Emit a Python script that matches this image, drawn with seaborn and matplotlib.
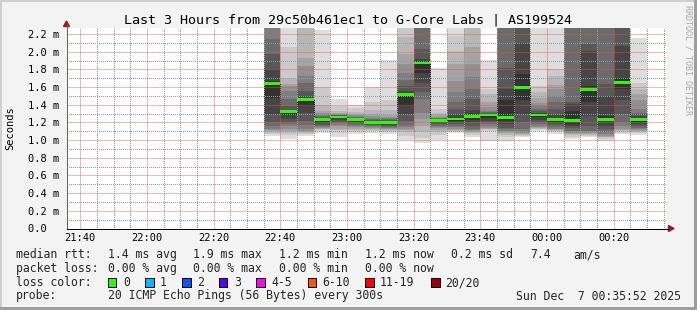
import matplotlib
matplotlib.use("Agg")
import matplotlib.pyplot as plt
import matplotlib.dates as mdates
from matplotlib.patches import Polygon, Rectangle
from matplotlib.lines import Line2D
from matplotlib.ticker import MultipleLocator, FixedLocator
import numpy as np
import pandas as pd
import seaborn as sns

# ---------------- data ----------------
title = "Last 3 Hours from 29c50b461ec1 to G-Core Labs | AS199524"
x_start = "2025-12-06 21:35:52"
x_end = "2025-12-07 00:35:52"
y_max = 2.268

bar_times = ["2025-12-06 22:35", "2025-12-06 22:40", "2025-12-06 22:45", "2025-12-06 22:50",
             "2025-12-06 22:55", "2025-12-06 23:00", "2025-12-06 23:05", "2025-12-06 23:10",
             "2025-12-06 23:15", "2025-12-06 23:20", "2025-12-06 23:25", "2025-12-06 23:30",
             "2025-12-06 23:35", "2025-12-06 23:40", "2025-12-06 23:45", "2025-12-06 23:50",
             "2025-12-06 23:55", "2025-12-07 00:00", "2025-12-07 00:05", "2025-12-07 00:10",
             "2025-12-07 00:15", "2025-12-07 00:20", "2025-12-07 00:25"]
bar_end = "2025-12-07 00:30"

medians = [1.64, 1.324, 1.46, 1.234, 1.264, 1.234, 1.20, 1.20, 1.516, 1.874, 1.222, 1.24,
           1.267, 1.287, 1.256, 1.595, 1.287, 1.234, 1.222, 1.572, 1.234, 1.651, 1.234]

# 20 sorted ping RTTs (ms) per 5-minute step
pings = [
    [1.05, 1.07, 1.08, 1.10, 1.11, 1.125, 1.162, 1.20, 1.29, 1.48, 1.67, 1.80, 1.97, 2.14, 2.32, 2.40, 2.50, 2.60, 2.75, 2.90],
    [1.01, 1.06, 1.08, 1.10, 1.12, 1.16, 1.18, 1.20, 1.24, 1.28, 1.33, 1.34, 1.39, 1.46, 1.55, 1.61, 1.64, 1.70, 2.05, 2.27],
    [1.05, 1.065, 1.08, 1.09, 1.10, 1.12, 1.17, 1.22, 1.31, 1.39, 1.47, 1.50, 1.56, 1.65, 1.73, 1.84, 1.934, 2.30, 2.38, 2.45],
    [1.085, 1.10, 1.12, 1.13, 1.14, 1.15, 1.16, 1.17, 1.19, 1.21, 1.24, 1.25, 1.26, 1.27, 1.29, 1.31, 1.33, 1.40, 1.60, 2.25],
    [1.04, 1.085, 1.11, 1.13, 1.155, 1.17, 1.19, 1.205, 1.225, 1.245, 1.27, 1.275, 1.28, 1.285, 1.29, 1.30, 1.31, 1.33, 1.39, 1.47],
    [1.07, 1.09, 1.11, 1.13, 1.145, 1.16, 1.175, 1.19, 1.205, 1.22, 1.24, 1.25, 1.255, 1.265, 1.275, 1.285, 1.30, 1.32, 1.36, 1.40],
    [1.085, 1.10, 1.11, 1.125, 1.14, 1.15, 1.16, 1.17, 1.18, 1.19, 1.21, 1.22, 1.23, 1.24, 1.255, 1.27, 1.29, 1.34, 1.43, 1.60],
    [1.07, 1.09, 1.105, 1.12, 1.13, 1.14, 1.15, 1.16, 1.175, 1.19, 1.205, 1.215, 1.225, 1.235, 1.245, 1.26, 1.28, 1.34, 1.45, 1.91],
    [1.00, 1.05, 1.09, 1.11, 1.13, 1.15, 1.17, 1.22, 1.30, 1.39, 1.53, 1.55, 1.61, 1.68, 1.76, 1.86, 1.97, 2.17, 2.27, 2.40],
    [0.97, 1.02, 1.09, 1.16, 1.24, 1.31, 1.46, 1.54, 1.65, 1.76, 1.89, 1.92, 2.03, 2.30, 2.35, 2.42, 2.50, 2.65, 2.80, 3.00],
    [1.004, 1.06, 1.09, 1.115, 1.135, 1.15, 1.165, 1.18, 1.195, 1.21, 1.228, 1.235, 1.24, 1.245, 1.255, 1.265, 1.28, 1.31, 1.35, 1.81],
    [1.075, 1.09, 1.10, 1.115, 1.13, 1.145, 1.16, 1.18, 1.20, 1.22, 1.25, 1.29, 1.35, 1.43, 1.54, 1.67, 1.86, 2.01, 2.18, 2.35],
    [1.04, 1.06, 1.075, 1.09, 1.10, 1.11, 1.13, 1.16, 1.20, 1.23, 1.28, 1.34, 1.47, 1.58, 1.71, 1.86, 2.05, 2.30, 2.35, 2.50],
    [0.993, 1.105, 1.12, 1.125, 1.14, 1.16, 1.18, 1.20, 1.22, 1.25, 1.29, 1.295, 1.305, 1.315, 1.33, 1.37, 1.43, 1.52, 1.58, 1.91],
    [0.993, 1.04, 1.06, 1.08, 1.09, 1.10, 1.125, 1.14, 1.18, 1.22, 1.45, 1.58, 1.82, 2.29, 2.33, 2.40, 2.50, 2.65, 2.80, 3.00],
    [1.03, 1.05, 1.06, 1.07, 1.08, 1.09, 1.125, 1.20, 1.30, 1.45, 1.75, 2.10, 2.30, 2.40, 2.50, 2.60, 2.70, 2.85, 3.00, 3.20],
    [1.10, 1.125, 1.13, 1.14, 1.15, 1.16, 1.18, 1.20, 1.23, 1.26, 1.295, 1.31, 1.33, 1.35, 1.39, 1.42, 1.48, 1.54, 1.61, 2.35],
    [1.07, 1.09, 1.10, 1.11, 1.12, 1.13, 1.15, 1.17, 1.19, 1.21, 1.25, 1.28, 1.35, 1.43, 1.50, 1.58, 1.62, 1.73, 1.80, 2.27],
    [1.01, 1.04, 1.06, 1.07, 1.08, 1.09, 1.106, 1.14, 1.162, 1.18, 1.33, 1.41, 1.43, 2.32, 2.40, 2.50, 2.60, 2.75, 2.90, 3.10],
    [1.04, 1.05, 1.06, 1.07, 1.08, 1.087, 1.106, 1.162, 1.275, 1.426, 1.614, 2.01, 2.09, 2.30, 2.40, 2.50, 2.60, 2.75, 2.90, 3.10],
    [0.995, 1.015, 1.03, 1.04, 1.05, 1.07, 1.087, 1.125, 1.162, 1.22, 1.275, 1.50, 1.63, 2.30, 2.40, 2.50, 2.60, 2.75, 2.90, 3.10],
    [1.07, 1.085, 1.10, 1.11, 1.13, 1.16, 1.20, 1.30, 1.45, 1.58, 1.70, 2.07, 2.30, 2.35, 2.45, 2.55, 2.65, 2.80, 2.95, 3.10],
    [1.055, 1.075, 1.09, 1.10, 1.11, 1.125, 1.14, 1.16, 1.18, 1.20, 1.25, 1.27, 1.29, 1.31, 1.35, 1.45, 1.52, 1.58, 1.65, 2.15],
]

ytick_values = [0.0, 0.2, 0.4, 0.6, 0.8, 1.0, 1.2, 1.4, 1.6, 1.8, 2.0, 2.2]
ytick_labels = ["0.0  ", "0.2 m", "0.4 m", "0.6 m", "0.8 m", "1.0 m", "1.2 m",
                "1.4 m", "1.6 m", "1.8 m", "2.0 m", "2.2 m"]
xtick_times = ["2025-12-06 21:40", "2025-12-06 22:00", "2025-12-06 22:20", "2025-12-06 22:40",
               "2025-12-06 23:00", "2025-12-06 23:20", "2025-12-06 23:40", "2025-12-07 00:00",
               "2025-12-07 00:20"]
xtick_labels = ["21:40", "22:00", "22:20", "22:40", "23:00", "23:20", "23:40", "00:00", "00:20"]

median_stats = ["1.4 ms avg", "1.9 ms max", "1.2 ms min", "1.2 ms now", "0.2 ms sd", "7.4", "am/s"]
loss_stats = ["0.00 % avg", "0.00 % max", "0.00 % min", "0.00 % now"]
loss_labels = ["0", "1", "2", "3", "4-5", "6-10", "11-19", "20/20"]
loss_colors = ["#26ff00", "#00b8ff", "#0059ff", "#5e00ff", "#ff00ff", "#ff5500", "#ff0000", "#a10000"]
probe_text = "20 ICMP Echo Pings (56 Bytes) every 300s"
date_text = "Sun Dec  7 00:35:52 2025"
watermark = "RRDTOOL / TOBI OETIKER"

# ---------------- layout ----------------
W, H, DPI = 697, 310, 100
sns.set_theme(style="white")
plt.rcParams["font.family"] = ["DejaVu Sans Mono"]
MONO = ["DejaVu Sans Mono"]


def fx(x):
    return x / W


def fy(y):
    return 1 - y / H


fig = plt.figure(figsize=(W / DPI, H / DPI), dpi=DPI)
fig.patch.set_facecolor("#f3f3f3")

AX_L, AX_R, AX_T, AX_B = 66.5, 666.5, 28.0, 228.5
ax = fig.add_axes([fx(AX_L), fy(AX_B), (AX_R - AX_L) / W, (AX_B - AX_T) / H])
ax.set_facecolor("white")

xl = mdates.date2num(pd.to_datetime(bar_times))
x_last = mdates.date2num(pd.Timestamp(bar_end))
bw = x_last - xl[-1]
P = np.array(pings)
med = np.array(medians)
x0 = mdates.date2num(pd.Timestamp(x_start))
x1 = mdates.date2num(pd.Timestamp(x_end))
xt = mdates.date2num(pd.to_datetime(xtick_times))

# smoke: band i spans ping i .. ping (21-i), darker towards the middle
half = P.shape[1] // 2
for i in range(half):
    g = int(190 / half * (half - 1 - i)) + 50
    col = "#%02x%02x%02x" % (g, g, g)
    lo = P[:, i]
    hi = P[:, -1 - i]
    ax.bar(xl, hi - lo, bottom=lo, width=bw, align="edge", color=col,
           linewidth=0, zorder=1)

px = 72 / DPI

# median: dark step line + green loss-colored bars
step_x = np.append(xl, x_last)
step_y = np.append(med, med[-1])
sns.lineplot(x=step_x, y=step_y, drawstyle="steps-post", color="#202020",
             linewidth=px, linestyle=(0.5, (1, 1)), estimator=None, sort=False,
             ax=ax, zorder=2)
sw = 1.1 * y_max / (AX_B - AX_T)
ax.bar(xl, 2 * sw, bottom=med - sw, width=bw, align="edge", color=loss_colors[0],
       linewidth=0, zorder=4)

ax.set_xlim(x0, x1)
ax.set_ylim(0, y_max)
ax.set_xlabel("")
ax.set_ylabel("")

ax.xaxis.set_major_locator(FixedLocator(xt))
ax.xaxis.set_major_formatter(matplotlib.ticker.FixedFormatter(xtick_labels))
ax.xaxis.set_minor_locator(mdates.MinuteLocator(byminute=range(0, 60, 5)))
ax.yaxis.set_major_locator(FixedLocator(ytick_values))
ax.yaxis.set_major_formatter(matplotlib.ticker.FixedFormatter(ytick_labels))
ax.yaxis.set_minor_locator(MultipleLocator(0.1))

# grid: minor gray dotted, major light red (drawn on top of the smoke)
ax.set_axisbelow(False)
ax.grid(which="minor", color=(0.6, 0.6, 0.6, 0.45), linestyle=(0.5, (1, 1)),
        linewidth=px, snap=True)
ax.grid(which="major", visible=False)
major_col = (0.95, 0.3, 0.3, 0.42)
ax.hlines(ytick_values[1:], x0, x1, colors=[major_col], linewidth=px, zorder=2.7, snap=True)
ax.vlines(xt, 0, y_max, colors=[major_col], linewidth=px, zorder=2.7, snap=True)

ax.tick_params(axis="x", which="major", length=2 * px * 1.4, width=px, color="#000000",
               pad=1.2, labelsize=7.5, labelcolor="#000000")
ax.tick_params(axis="y", which="major", length=2.5 * px * 1.4, width=px, color="#606060",
               pad=2.9, labelsize=7.5, labelcolor="#000000")
ax.tick_params(axis="both", which="minor", length=0)
for lab in ax.get_xticklabels() + ax.get_yticklabels():
    lab.set_family(MONO)

for s in ["top", "right"]:
    ax.spines[s].set_visible(False)
ax.spines["bottom"].set_color("#000000")
ax.spines["bottom"].set_linewidth(px)
ax.spines["left"].set_color("#606060")
ax.spines["left"].set_linewidth(px)
ax.spines["bottom"].set_zorder(5)

# axis extensions and arrows
fig.add_artist(Line2D([fx(AX_R), fx(669)], [fy(AX_B), fy(AX_B)], color="#000000",
                      linewidth=px))
fig.add_artist(Line2D([fx(AX_L), fx(AX_L)], [fy(AX_T), fy(25)], color="#606060",
                      linewidth=px))
arrow_col = "#9b1c1c"
fig.add_artist(Polygon([(fx(63.5), fy(26.5)), (fx(69.5), fy(26.5)), (fx(66.5), fy(21.0))],
                       closed=True, color=arrow_col, transform=fig.transFigure))
fig.add_artist(Polygon([(fx(668.5), fy(225.5)), (fx(668.5), fy(231.5)), (fx(674.0), fy(228.5))],
                       closed=True, color=arrow_col, transform=fig.transFigure))

# title, y label, watermark
fig.text(fx(348.5), fy(24.0), title, ha="center", va="baseline", fontsize=9.6,
         family=MONO, color="#000000")
fig.text(fx(10.5), fy(128.0), "Seconds", ha="center", va="center", rotation=90,
         fontsize=7.5, family=MONO, color="#000000")
fig.text(fx(688.0), fy(60.0), watermark, ha="center", va="center", rotation=270,
         fontsize=6.0, family=MONO, color="#a8a8a8")

# legend block
LF = 8.3
rows = [258.3, 272.0, 286.0, 299.5]
fig.text(fx(16), fy(rows[0]), "median rtt:", ha="left", va="baseline", fontsize=LF, family=MONO)
for s, x in zip(median_stats, [107.6, 193.0, 279.0, 365.0, 451.0, 530.0, 573.0]):
    fig.text(fx(x), fy(rows[0]), s, ha="left", va="baseline", fontsize=LF, family=MONO)
fig.text(fx(16), fy(rows[1]), "packet loss:", ha="left", va="baseline", fontsize=LF, family=MONO)
for s, x in zip(loss_stats, [107.6, 193.0, 279.0, 365.0]):
    fig.text(fx(x), fy(rows[1]), s, ha="left", va="baseline", fontsize=LF, family=MONO)
fig.text(fx(16), fy(rows[2]), "loss color:", ha="left", va="baseline", fontsize=LF, family=MONO)
box_x = [108.0, 145.3, 182.2, 219.1, 256.4, 307.6, 365.3, 431.1]
lab_x = [123.1, 160.0, 196.9, 234.2, 271.1, 321.8, 380.0, 445.3]
for c, lab, bx, lx in zip(loss_colors, loss_labels, box_x, lab_x):
    fig.add_artist(Rectangle((fx(bx), fy(286.8)), 8.4 / W, 8.4 / H, facecolor=c,
                             edgecolor="#000000", linewidth=px, transform=fig.transFigure))
    fig.text(fx(lx), fy(rows[2]), lab, ha="left", va="baseline", fontsize=LF, family=MONO)
fig.text(fx(16), fy(rows[3]), "probe:", ha="left", va="baseline", fontsize=LF, family=MONO)
fig.text(fx(107.6), fy(rows[3]), probe_text, ha="left", va="baseline", fontsize=LF, family=MONO)
fig.text(fx(681), fy(rows[3]), date_text, ha="right", va="baseline", fontsize=LF, family=MONO)

# image frame shading
fig.add_artist(Rectangle((0, fy(2)), 1, 2 / H, facecolor="#cfcfcf", edgecolor="none",
                         transform=fig.transFigure))
fig.add_artist(Rectangle((0, 0), 2 / W, 1, facecolor="#cfcfcf", edgecolor="none",
                         transform=fig.transFigure))
fig.add_artist(Rectangle((fx(W - 3), 0), 3 / W, 1, facecolor="#9e9e9e", edgecolor="none",
                         transform=fig.transFigure))
fig.add_artist(Rectangle((0, 0), 1, 3 / H, facecolor="#9e9e9e", edgecolor="none",
                         transform=fig.transFigure))

fig.savefig("out.png", dpi=DPI, facecolor=fig.get_facecolor())
